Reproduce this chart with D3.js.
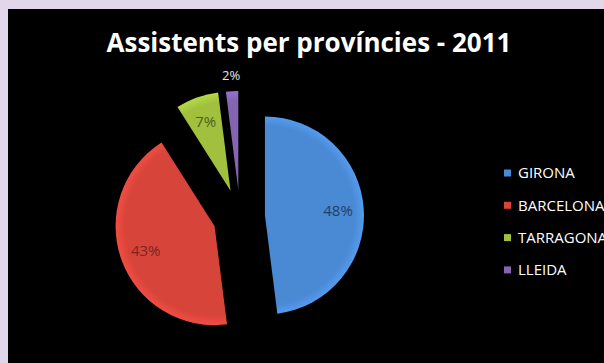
<!DOCTYPE html>
<html><head><meta charset="utf-8">
<script src="https://cdn.jsdelivr.net/npm/d3@7"></script>
<style>html,body{margin:0;padding:0;background:#e2d7ea;}svg{display:block;}</style>
</head><body>
<svg id="chart" width="604" height="363"></svg>
<script>
const title = "Assistents per províncies - 2011";
const categories = ["GIRONA", "BARCELONA", "TARRAGONA", "LLEIDA"];
const values = [48, 43, 7, 2];
const pctLabels = ["48%", "43%", "7%", "2%"];
const colors = ["#4a89d3", "#d6443a", "#a0c03e", "#8365b2"];
const labelColors = ["#1f3f6b", "#7d241e", "#4e611c", "#e6e6e6"];
const explode = [25, 27, 28, 27];

const svg = d3.select("#chart");
svg.append("rect").attr("x", 8).attr("y", 9).attr("width", 596).attr("height", 354).attr("fill", "#000");

svg.append("text").attr("x", 309).attr("y", 52).attr("text-anchor", "middle")
  .attr("font-family", "Open Sans").attr("font-weight", "bold").attr("font-size", 26)
  .attr("fill", "#fff").text(title);

const cx = 240, cy = 217, r = 99;
const pie = d3.pie().sort(null).value(d => d);
const arcs = pie(values);
const arc = d3.arc().innerRadius(0).outerRadius(r);
const defs = svg.append("defs");
colors.forEach((c, i) => {
  const g = defs.append("radialGradient").attr("id", "g" + i).attr("gradientUnits", "userSpaceOnUse")
    .attr("cx", 0).attr("cy", 0).attr("r", r);
  g.append("stop").attr("offset", "0.9").attr("stop-color", c);
  g.append("stop").attr("offset", "1").attr("stop-color", d3.color(c).brighter(0.35));
});

const g = svg.append("g").attr("transform", `translate(${cx},${cy})`);
const slices = g.selectAll("g.slice").data(arcs).join("g").attr("class", "slice")
  .attr("transform", (d, i) => {
    const m = (d.startAngle + d.endAngle) / 2;
    return `translate(${Math.sin(m) * explode[i]},${-Math.cos(m) * explode[i]})`;
  });
slices.append("path").attr("d", arc).attr("fill", (d, i) => `url(#g${i})`);

const labelArc = d3.arc().innerRadius(r * 0.74).outerRadius(r * 0.74);
const outArc = d3.arc().innerRadius(r + 16).outerRadius(r + 16);
slices.append("text")
  .attr("transform", (d, i) => `translate(${(values[i] < 5 ? outArc : labelArc).centroid(d)})`)
  .attr("text-anchor", "middle").attr("dy", "0.36em")
  .attr("font-family", "Open Sans").attr("font-size", (d, i) => values[i] < 5 ? 13 : 15)
  .attr("fill", (d, i) => labelColors[i]).text((d, i) => pctLabels[i]);

const legend = svg.append("g").attr("transform", "translate(504,173)");
const row = legend.selectAll("g").data(categories).join("g")
  .attr("transform", (d, i) => `translate(0,${i * 32.3})`);
row.append("rect").attr("x", 0).attr("y", -3.5).attr("width", 7).attr("height", 7)
  .attr("fill", (d, i) => colors[i]);
row.append("text").attr("x", 14).attr("dy", "0.36em").attr("font-family", "Open Sans")
  .attr("font-size", 15).attr("fill", "#fff").text(d => d);
</script>
</body></html>
